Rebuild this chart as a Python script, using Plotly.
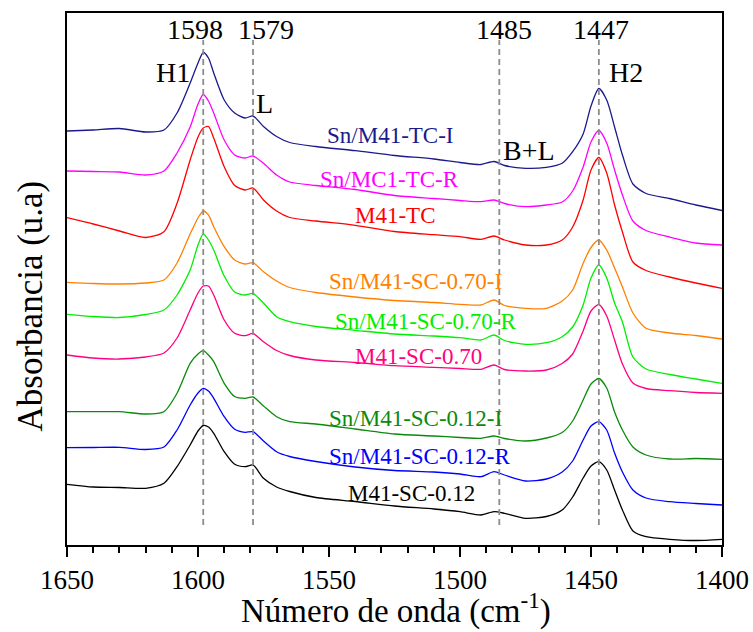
import plotly.graph_objects as go

# Wavenumber grid (cm^-1) shared by all spectra
wavenumber = [1650, 1640, 1630, 1620, 1613, 1608, 1603, 1600, 1598, 1596, 1594, 1590,
              1586, 1582, 1579, 1575, 1570, 1565, 1555, 1540, 1525, 1510, 1500, 1492,
              1487, 1483, 1475, 1467, 1461, 1457, 1453, 1450, 1447, 1444, 1441, 1438,
              1434, 1429, 1420, 1410, 1400]

# Stacked absorbance spectra (arbitrary units, offsets included)
sn_m41_tc_i = [414, 415, 416.5, 413, 415, 432, 462, 482, 492.5, 487, 472, 445,
               432, 427, 429, 418.5, 408.5, 402.5, 398.5, 394.3, 389.5, 386, 382.5, 380.5,
               383.5, 379.5, 376.7, 377.7, 381.7, 393.3, 411, 439, 456.5, 445, 418, 390,
               361, 351.5, 346.5, 340, 334.5]
sn_mc1_tc_r = [374, 373.5, 373, 370, 374, 392, 418, 441, 450.5, 444, 432, 405,
               390, 387, 389, 381.7, 370, 363, 359.5, 355.5, 349.5, 346.5, 344.5, 343.3,
               345, 341.5, 338.3, 340, 343, 354, 378, 403, 414.5, 402, 375, 350,
               324, 314.5, 308, 302, 300]
m41_tc = [327.3, 321, 314, 307.5, 313.3, 341.7, 385, 408, 417, 418.5, 407, 378.3,
          359.5, 355, 357, 345, 334, 327.5, 324, 319.7, 313.5, 310.3, 308.3, 305.7,
          309, 305, 300, 300, 305, 318, 345, 375, 387.5, 372, 340, 313,
          283, 274.5, 268, 262, 256.7]
sn_m41_sc_070_i = [262.7, 261.5, 261, 262, 265, 282, 311, 327, 334, 330, 318.3, 298.3,
                   285, 281, 282.3, 273.3, 264, 257.5, 252.5, 248, 244.5, 242.5, 240.7, 240,
                   245, 239.5, 236.7, 236.7, 244, 255, 281.7, 297.5, 305, 295, 277, 258,
                   232, 216.7, 212, 209.5, 206]
sn_m41_sc_070_r = [230.7, 228.5, 227.5, 230.5, 235, 250, 275, 300, 311, 305, 295, 269,
                   253, 250, 251.5, 242, 228.3, 223.3, 218.5, 214.7, 211, 209, 207.3, 205,
                   210, 204.5, 200.7, 202.3, 208.3, 218, 240, 267, 280, 267, 242, 223,
                   188, 176, 170.5, 166, 161.7]
m41_sc_070 = [190, 187, 186, 188, 192, 207, 235, 252, 259, 259, 250, 225,
              211.7, 209.3, 211.5, 203.3, 194.5, 189.5, 185, 182.5, 179.3, 177.7, 176.5, 175.7,
              180, 175.5, 174, 175, 181.5, 191, 214, 234, 240.5, 229, 205, 181,
              162, 156.5, 154.3, 152.5, 151.7]
sn_m41_sc_012_i = [133.3, 133.3, 133.3, 131, 133.3, 151.7, 181.7, 191, 194.3, 190, 183.3, 161.7,
                   148.5, 146.7, 148, 139, 128.3, 123.3, 121, 116, 111, 109, 107.5, 106.7,
                   109, 106.5, 104, 107, 112.5, 124, 145, 161, 166.5, 157, 133, 115,
                   98, 90, 86, 86.5, 85.7]
sn_m41_sc_012_r = [97.3, 97.5, 97.7, 95.5, 98, 115, 140, 152, 156.7, 154, 146.7, 128.3,
                   115.7, 112.7, 113.3, 104, 93.3, 88.5, 83.5, 78, 74.5, 73, 71, 68.3,
                   73.3, 70, 64, 66, 73, 84, 105, 119, 123.3, 115, 92, 73,
                   55, 47, 43.3, 41.5, 40]
m41_sc_012 = [60.7, 58, 57.5, 56.7, 61.7, 78.3, 100, 114, 119.5, 118, 111.7, 93.3,
              80.7, 78.3, 80, 66.7, 58, 53.5, 47.5, 43.5, 39, 36, 33.3, 30,
              33.3, 31.7, 26.7, 28.5, 35, 48, 67, 79, 83.3, 75, 55, 35,
              14, 8.3, 5.7, 4.5, 5.7]

sample_names = ["Sn/M41-TC-I", "Sn/MC1-TC-R", "M41-TC", "Sn/M41-SC-0.70-I",
                "Sn/M41-SC-0.70-R", "M41-SC-0.70", "Sn/M41-SC-0.12-I",
                "Sn/M41-SC-0.12-R", "M41-SC-0.12"]
spectra = [sn_m41_tc_i, sn_mc1_tc_r, m41_tc, sn_m41_sc_070_i, sn_m41_sc_070_r,
           m41_sc_070, sn_m41_sc_012_i, sn_m41_sc_012_r, m41_sc_012]
colors = ["#1a1a8c", "#ff00ff", "#ff0000", "#ff8000", "#00ee00",
          "#ff0080", "#0a8a0a", "#0000ff", "#000000"]

# Sample label anchor (wavenumber, absorbance)
label_x = [1526.7, 1527.1, 1524.8, 1516.8, 1513.0, 1515.8, 1516.8, 1515.3, 1518.7]
label_y = [410, 366, 330, 263.3, 224, 188.3, 127, 89, 52]

# Characteristic bands of adsorbed pyridine
band_positions = [1598, 1579, 1485, 1447]
band_labels = ["1598", "1579", "1485", "1447"]
band_label_x = [1601.1, 1574.2, 1483.2, 1446.2]
site_labels = ["H1", "L", "B+L", "H2"]
site_label_x = [1609.5, 1574.8, 1473.7, 1436.6]
site_label_y = [473, 442, 395, 473]

FONT = "Liberation Serif"

fig = go.Figure()

for name, y, c in zip(sample_names, spectra, colors):
    fig.add_trace(go.Scatter(
        x=wavenumber, y=y, mode="lines", name=name,
        line=dict(color=c, width=1.3, shape="spline", smoothing=0.7),
        showlegend=False, hoverinfo="skip"))

for b in band_positions:
    fig.add_shape(type="line", xref="x", yref="y", x0=b, x1=b, y0=20, y1=505,
                  line=dict(color="#8c8c8c", width=1.8, dash="6px,4px"), layer="above")

annotations = []
for name, x, y, c in zip(sample_names, label_x, label_y, colors):
    annotations.append(dict(x=x, y=y, text=name, showarrow=False, xref="x", yref="y",
                            font=dict(family=FONT, size=23, color=c)))
for t, x in zip(band_labels, band_label_x):
    annotations.append(dict(x=x, y=516, text=t, showarrow=False, xref="x", yref="y",
                            font=dict(family=FONT, size=28, color="black")))
for t, x, y in zip(site_labels, site_label_x, site_label_y):
    annotations.append(dict(x=x, y=y, text=t, showarrow=False, xref="x", yref="y",
                            font=dict(family=FONT, size=28, color="black")))

# Axis titles
annotations.append(dict(text="Número de onda (cm<sup>-1</sup>)", xref="paper", yref="paper",
                        x=0.502, y=-0.1635, showarrow=False, xanchor="center", yanchor="bottom",
                        font=dict(family=FONT, size=33, color="black")))
annotations.append(dict(text="Absorbancia (u.a)", xref="paper", yref="paper",
                        x=-0.056, y=0.449, showarrow=False, textangle=-90,
                        xanchor="center", yanchor="middle",
                        font=dict(family=FONT, size=35, color="black")))

fig.update_layout(
    width=753, height=632,
    margin=dict(l=67, r=31, t=13, b=87),
    paper_bgcolor="white", plot_bgcolor="white",
    font=dict(family=FONT, color="black"),
    annotations=annotations,
    xaxis=dict(
        range=[1650, 1400], dtick=50, tick0=1400, automargin=False,
        showline=True, linecolor="black", linewidth=2, mirror=True,
        ticks="outside", ticklen=10, tickwidth=2, tickcolor="black",
        minor=dict(dtick=10, ticks="outside", ticklen=6, tickwidth=2, tickcolor="black"),
        showgrid=False, zeroline=False,
        tickfont=dict(family=FONT, size=27, color="black"),
    ),
    yaxis=dict(
        range=[0, 532], automargin=False,
        showline=True, linecolor="black", linewidth=2, mirror=True,
        ticks="", showticklabels=False, showgrid=False, zeroline=False,
    ),
)

fig.write_html("out.html")
